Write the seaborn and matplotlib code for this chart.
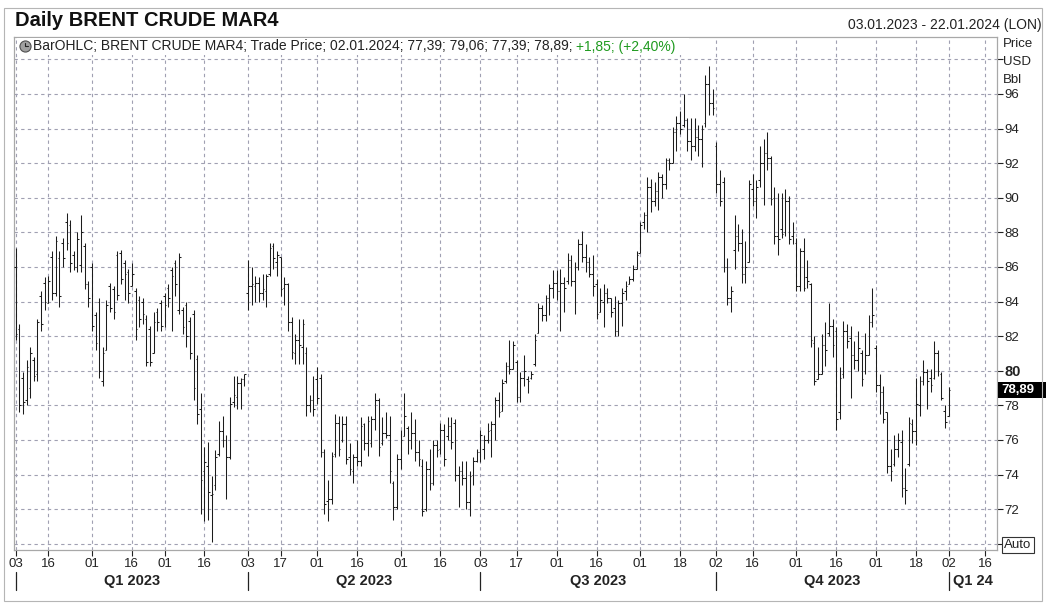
#! /usr/bin/env python3
import numpy as np
import pandas as pd
import seaborn as sns
import matplotlib.pyplot as plt
import matplotlib.transforms as mtransforms
from matplotlib import patches as mpatches

# Chart texts
TITLE = "Daily BRENT CRUDE MAR4"
RANGE_TEXT = "03.01.2023 - 22.01.2024 (LON)"
LEGEND_TEXT = "BarOHLC; BRENT CRUDE MAR4; Trade Price; 02.01.2024; 77,39; 79,06; 77,39; 78,89; "
LEGEND_CHANGE = "+1,85; (+2,40%)"
LAST_PRICE = 78.89
LAST_LABEL = "78,89"

# Trading calendar (exchange closed on these days)
START_DATE = "2023-01-03"
END_DATE = "2024-01-31"
HOLIDAYS = ["2023-04-07", "2023-12-25", "2024-01-01"]

# Daily bars
opens = [
    86.0, 82.4, 79.6, 78.3, 79.0, 80.6, 79.8, 84.3, 85.1, 83.9,
    86.6, 84.5, 86.5, 87.4, 88.6, 88.4, 86.7, 86.0, 86.1, 87.2,
    85.0, 86.0, 83.2, 84.0, 79.4, 81.2, 84.9, 84.7, 86.7, 86.8,
    86.2, 85.7, 84.9, 84.6, 84.1, 84.0, 83.0, 82.4, 81.0, 83.4,
    83.9, 84.3, 84.8, 85.8, 86.2, 83.5, 83.5, 83.8, 82.9, 83.3,
    80.7, 77.8, 74.2, 74.5, 72.8, 73.4, 75.2, 76.5, 76.0, 75.0,
    78.2, 78.5, 79.3, 79.5, 84.5, 84.9, 84.9, 85.1, 84.5, 84.6,
    85.6, 87.2, 86.3, 86.6, 84.8, 85.0, 82.8, 81.0, 81.8, 81.4,
    81.0, 78.0, 78.3, 79.5, 79.6, 75.3, 72.5, 72.6, 75.2, 77.0,
    76.0, 76.9, 75.0, 74.2, 75.0, 74.8, 76.9, 75.8, 75.8, 77.2,
    78.3, 75.8, 76.4, 76.3, 73.5, 72.1, 74.9, 76.2, 76.7, 76.0,
    76.4, 75.3, 74.5, 72.0, 74.3, 73.5, 75.7, 75.5, 76.6, 76.2,
    76.8, 77.0, 74.0, 74.2, 73.8, 72.4, 74.0, 74.8, 75.3, 75.5,
    76.0, 76.6, 76.9, 78.3, 77.7, 79.4, 80.3, 80.1, 80.5, 78.5,
    79.6, 79.5, 79.6, 80.4, 82.2, 83.6, 83.2, 84.2, 84.8, 85.1,
    84.6, 85.1, 85.2, 86.4, 85.2, 86.0, 87.3, 86.6, 86.3, 85.6,
    85.0, 83.4, 84.0, 84.5, 84.2, 83.6, 82.3, 83.9, 84.6, 85.0,
    85.3, 85.9, 86.8, 88.6, 89.0, 90.6, 89.8, 90.4, 91.2, 90.8,
    92.2, 92.0, 93.8, 94.3, 94.2, 94.5, 93.3, 93.0, 93.5, 93.4,
    94.3, 96.6, 95.5, 93.0, 90.8, 90.9, 86.0, 84.2, 87.0, 87.8,
    87.4, 85.6, 86.3, 90.5, 89.8, 91.0, 92.0, 92.6, 92.3, 90.0,
    87.8, 88.2, 88.0, 89.8, 87.8, 87.4, 84.9, 86.9, 85.4, 85.0,
    81.6, 79.5, 79.8, 81.5, 82.2, 82.6, 82.3, 77.6, 79.8, 82.3,
    81.9, 80.9, 80.6, 81.0, 80.0, 80.9, 82.8, 81.3, 79.2, 78.8,
    77.6, 74.5, 74.6, 75.5, 75.9, 73.2, 74.6, 76.9, 76.5, 78.0,
    79.4, 79.9, 79.6, 79.6, 81.0, 79.8, 77.7, 77.39,
]
highs = [
    87.1, 82.7, 79.9, 80.6, 81.4, 80.8, 83.0, 84.6, 85.4, 85.5,
    86.9, 87.8, 86.9, 87.7, 89.1, 88.7, 86.9, 88.0, 89.0, 87.4,
    85.2, 86.2, 83.4, 84.2, 81.4, 84.1, 85.1, 84.9, 86.9, 87.0,
    86.4, 85.9, 86.2, 84.8, 84.3, 84.2, 83.2, 82.6, 83.4, 83.6,
    84.1, 84.5, 85.0, 86.0, 86.4, 86.8, 83.7, 84.0, 83.1, 83.5,
    80.9, 78.7, 75.6, 75.9, 73.9, 75.4, 77.1, 77.4, 76.3, 78.5,
    79.7, 79.7, 79.6, 79.8, 86.4, 86.0, 85.5, 85.4, 85.6, 85.6,
    87.4, 87.4, 86.9, 86.6, 85.4, 85.1, 83.1, 82.1, 83.0, 83.0,
    81.4, 78.6, 79.7, 80.2, 79.8, 75.5, 73.7, 75.3, 77.5, 77.4,
    77.4, 77.4, 75.8, 75.2, 76.0, 77.3, 77.0, 77.4, 77.4, 78.7,
    78.4, 77.3, 77.6, 77.4, 73.6, 75.2, 76.6, 78.7, 76.8, 77.6,
    77.2, 76.0, 74.9, 74.8, 75.5, 76.0, 76.0, 77.0, 76.9, 77.3,
    77.3, 77.2, 74.5, 74.8, 74.8, 74.2, 75.0, 75.5, 76.6, 76.3,
    77.0, 77.1, 78.5, 78.8, 79.5, 80.5, 81.8, 81.7, 80.6, 79.9,
    80.9, 79.7, 80.0, 82.1, 83.9, 83.8, 84.4, 85.0, 85.8, 85.8,
    85.9, 85.4, 86.8, 86.7, 86.3, 87.6, 88.1, 87.3, 86.6, 86.7,
    85.3, 84.8, 85.0, 84.8, 84.2, 84.3, 84.1, 84.8, 85.2, 85.5,
    86.1, 86.9, 88.6, 89.2, 91.2, 91.1, 90.9, 91.5, 91.4, 92.3,
    92.3, 94.1, 94.7, 95.0, 96.0, 94.6, 94.6, 94.6, 94.2, 94.2,
    97.1, 97.6, 96.3, 93.2, 91.6, 91.2, 86.5, 84.9, 89.0, 88.5,
    88.2, 87.5, 91.0, 91.4, 91.0, 93.0, 93.4, 93.8, 92.4, 90.6,
    90.3, 90.3, 90.5, 90.1, 88.6, 87.7, 87.1, 87.7, 86.4, 85.1,
    82.0, 81.4, 82.1, 82.8, 83.9, 83.0, 82.5, 80.2, 82.9, 82.7,
    82.6, 81.7, 82.3, 81.2, 82.2, 83.2, 84.8, 81.5, 79.8, 79.1,
    77.6, 75.5, 76.3, 76.4, 76.6, 74.4, 77.3, 77.2, 79.6, 79.7,
    80.6, 80.1, 80.1, 81.7, 81.2, 79.9, 78.0, 79.06,
]
lows = [
    81.8, 77.6, 77.5, 78.0, 78.4, 79.4, 79.4, 82.3, 83.5, 83.9,
    84.1, 84.3, 83.7, 86.0, 87.0, 85.7, 85.8, 85.7, 85.7, 84.7,
    83.7, 82.3, 81.2, 79.6, 79.1, 81.2, 83.4, 83.0, 84.1, 85.0,
    84.1, 83.9, 84.9, 81.8, 82.5, 82.7, 80.3, 80.3, 81.0, 82.3,
    82.3, 82.5, 83.7, 82.3, 84.3, 83.3, 82.1, 81.4, 80.7, 78.3,
    76.9, 71.7, 71.3, 71.4, 70.1, 73.1, 75.1, 75.6, 72.6, 74.9,
    77.9, 77.8, 77.8, 79.1, 83.5, 83.8, 84.0, 84.0, 84.1, 83.7,
    85.5, 85.9, 85.5, 84.3, 83.8, 82.3, 80.7, 80.4, 80.4, 80.4,
    77.4, 77.6, 77.4, 78.1, 75.0, 71.7, 71.3, 72.3, 75.0, 75.1,
    75.9, 74.6, 74.0, 73.5, 74.5, 74.5, 75.4, 75.1, 75.6, 76.6,
    75.1, 75.7, 76.1, 73.5, 71.4, 72.0, 74.3, 76.2, 75.2, 75.5,
    74.8, 74.5, 71.6, 71.9, 73.1, 73.4, 75.0, 75.2, 74.5, 76.0,
    75.5, 73.6, 72.1, 73.4, 72.0, 71.6, 73.4, 74.7, 74.7, 74.9,
    75.8, 75.0, 76.0, 77.3, 77.7, 79.3, 79.8, 80.1, 78.2, 78.2,
    79.1, 78.7, 79.5, 80.3, 82.2, 82.9, 82.9, 83.2, 84.2, 84.1,
    82.3, 83.4, 85.0, 84.9, 83.3, 85.8, 86.3, 85.7, 85.4, 84.3,
    83.0, 83.4, 82.5, 83.9, 83.1, 82.0, 82.0, 82.6, 84.1, 85.0,
    85.2, 85.9, 86.8, 88.2, 88.0, 89.2, 89.5, 89.3, 90.0, 90.5,
    91.6, 92.0, 92.7, 93.7, 94.1, 92.7, 92.2, 92.7, 92.4, 91.8,
    94.1, 94.8, 94.8, 90.3, 89.5, 85.7, 83.8, 83.4, 85.9, 86.9,
    85.1, 85.1, 86.3, 89.5, 88.8, 90.6, 89.6, 91.6, 89.6, 87.3,
    86.7, 87.7, 87.8, 87.3, 87.3, 84.6, 84.6, 84.6, 84.8, 81.4,
    79.2, 79.5, 79.8, 80.3, 82.0, 80.8, 76.6, 77.2, 79.6, 81.3,
    78.4, 80.1, 80.0, 79.1, 79.8, 80.9, 82.5, 78.8, 77.5, 77.0,
    74.1, 73.6, 74.5, 75.0, 72.7, 72.3, 74.5, 75.8, 75.7, 77.4,
    79.2, 77.8, 78.8, 79.5, 79.7, 78.3, 76.7, 77.39,
]
closes = [
    82.1, 78.0, 78.2, 80.2, 81.0, 79.7, 82.8, 82.7, 84.0, 85.2,
    84.5, 87.5, 84.3, 86.5, 87.4, 86.2, 86.0, 87.6, 88.0, 85.0,
    84.2, 82.6, 81.6, 80.0, 81.0, 83.8, 83.6, 83.4, 84.4, 85.3,
    85.6, 84.5, 85.6, 82.4, 83.0, 83.3, 80.5, 80.5, 82.8, 82.8,
    82.6, 83.8, 84.2, 85.5, 85.0, 86.6, 82.5, 82.0, 81.0, 79.0,
    77.5, 73.7, 74.7, 73.0, 72.9, 75.0, 76.5, 76.0, 75.0, 78.1,
    78.6, 79.3, 79.5, 79.8, 84.9, 85.0, 85.1, 84.5, 84.7, 85.5,
    87.1, 86.5, 86.7, 84.7, 85.0, 82.8, 81.1, 81.8, 81.5, 82.7,
    78.0, 78.3, 77.8, 78.4, 75.3, 72.3, 72.6, 75.1, 77.0, 75.5,
    76.9, 74.9, 74.3, 75.0, 74.8, 76.8, 75.8, 77.1, 77.2, 78.3,
    75.6, 76.4, 76.3, 74.2, 72.1, 74.9, 76.0, 77.4, 76.0, 76.4,
    75.3, 74.9, 71.9, 74.3, 73.5, 75.7, 75.4, 76.6, 74.9, 76.8,
    75.9, 74.0, 74.2, 73.8, 72.4, 73.9, 74.8, 75.3, 76.3, 76.0,
    76.5, 76.9, 78.3, 77.6, 79.3, 80.3, 80.1, 81.5, 78.5, 79.6,
    80.0, 79.4, 79.8, 81.8, 83.6, 83.2, 84.2, 84.8, 85.1, 84.6,
    85.1, 84.8, 86.4, 85.2, 86.0, 87.3, 86.6, 86.3, 85.6, 84.9,
    83.3, 84.1, 84.5, 84.2, 83.4, 82.3, 83.9, 84.5, 84.9, 85.3,
    85.9, 86.7, 88.4, 89.0, 90.6, 89.8, 90.4, 91.2, 90.8, 92.2,
    92.0, 93.8, 94.3, 94.0, 94.5, 93.3, 93.0, 93.5, 93.4, 94.0,
    96.6, 95.5, 95.2, 90.8, 89.8, 86.0, 84.2, 84.6, 87.8, 87.4,
    85.6, 86.0, 90.8, 89.8, 90.6, 92.0, 92.6, 92.3, 89.9, 87.8,
    87.6, 87.9, 89.8, 87.6, 88.0, 84.9, 86.9, 84.8, 85.2, 81.8,
    79.4, 79.8, 81.5, 81.2, 82.6, 81.5, 77.2, 79.6, 82.3, 81.7,
    80.9, 80.6, 81.3, 79.5, 80.9, 82.8, 83.2, 79.2, 78.8, 77.2,
    74.5, 74.2, 75.5, 76.0, 73.2, 73.1, 77.0, 76.5, 78.1, 79.4,
    79.9, 79.4, 79.2, 81.0, 80.0, 78.4, 77.04, 78.89,
]

# Axis labels
TICK_DATES = ["2023-01-03", "2023-01-16", "2023-02-01", "2023-02-16", "2023-03-01",
              "2023-03-16", "2023-04-03", "2023-04-17", "2023-05-01", "2023-05-16",
              "2023-06-01", "2023-06-16", "2023-07-03", "2023-07-17", "2023-08-01",
              "2023-08-16", "2023-09-01", "2023-09-18", "2023-10-02", "2023-10-16",
              "2023-11-01", "2023-11-16", "2023-12-01", "2023-12-18", "2024-01-02",
              "2024-01-16"]
TICK_LABELS = ["03", "16", "01", "16", "01", "16", "03", "17", "01", "16", "01", "16", "03",
               "17", "01", "16", "01", "18", "02", "16", "01", "16", "01", "18", "02", "16"]
QUARTER_STARTS = ["2023-01-03", "2023-04-03", "2023-07-03", "2023-10-02", "2024-01-02"]
QUARTER_LABELS = ["Q1 2023", "Q2 2023", "Q3 2023", "Q4 2023", "Q1 24"]
Y_TICKS = list(range(70, 100, 2))
Y_LABELED = list(range(72, 98, 2))

W, H = 1046, 605


def main():
    sns.set_theme(style="white")
    plt.rcParams["font.family"] = ["Liberation Sans", "DejaVu Sans"]

    days = pd.bdate_range(START_DATE, END_DATE)
    days = days[~days.isin(pd.to_datetime(HOLIDAYS))]
    pos_of = {d: i for i, d in enumerate(days)}

    n = len(closes)
    df = pd.DataFrame({"date": days[:n], "open": opens, "high": highs,
                       "low": lows, "close": closes})
    df["pos"] = np.arange(n)

    fig = plt.figure(figsize=(W / 100, H / 100), dpi=100)
    fig.patch.set_facecolor("white")
    ax = fig.add_axes([14 / W, 55 / H, 983 / W, 513 / H])

    # OHLC bars
    bar_col = "#1c1c1c"
    ax.vlines(df["pos"], df["low"], df["high"], color=bar_col, lw=0.75, zorder=3)
    ax.hlines(df["open"], df["pos"] - 0.45, df["pos"], color=bar_col, lw=0.75, zorder=3)
    ax.hlines(df["close"], df["pos"], df["pos"] + 0.45, color=bar_col, lw=0.75, zorder=3)

    ax.set_xlim(-0.47, 270.3)
    ax.set_ylim(69.64, 99.29)

    # x axis
    xt = [pos_of[pd.Timestamp(d)] for d in TICK_DATES]
    ax.set_xticks(xt)
    ax.set_xticklabels(TICK_LABELS)
    ax.tick_params(axis="x", direction="out", length=4, width=0.8, pad=1.5,
                   labelsize=9.5, colors="#222222", bottom=True)

    # y axis on the right
    ax.yaxis.tick_right()
    ax.set_yticks(Y_TICKS)
    ax.set_yticklabels([str(v) if v in Y_LABELED else "" for v in Y_TICKS])
    ax.tick_params(axis="y", direction="out", length=4, width=0.8, pad=1.5,
                   labelsize=9.5, colors="#222222", right=True)
    for lab in ax.get_yticklabels():
        if lab.get_text() == "80":
            lab.set_fontweight("bold")
            lab.set_fontsize(10.5)

    ax.grid(True, linestyle=(0, (3, 3)), color="#a0a0b2", lw=0.8, zorder=0)
    for s in ax.spines.values():
        s.set_color("#a8a8a8")
        s.set_linewidth(0.9)

    # legend line at the top of the plot
    ax.add_patch(mpatches.Rectangle((3 / 983, 1 - 18 / 513), 672 / 983, 17 / 513,
                                    transform=ax.transAxes, facecolor="white",
                                    edgecolor="none", zorder=4))
    ax.plot([11 / 983], [1 - 9 / 513], transform=ax.transAxes, marker="o", ms=8,
            mfc="#a0a0a0", mec="#505050", mew=0.8, zorder=5, clip_on=False)
    ax.plot([11 / 983, 11 / 983, 14 / 983], [1 - 6 / 513, 1 - 9 / 513, 1 - 9 / 513],
            transform=ax.transAxes, color="#222222", lw=0.8, zorder=6)
    t1 = ax.text(19 / 983, 1 - 9.5 / 513, LEGEND_TEXT, transform=ax.transAxes,
                 fontsize=10, color="#222222", va="center", ha="left", zorder=6)
    ax.annotate(LEGEND_CHANGE, xy=(1, 0.5), xycoords=t1, va="center", ha="left",
                fontsize=10, color="#1e9a1e", zorder=6)

    # last price marker on the right axis
    blend = mtransforms.blended_transform_factory(ax.transAxes, ax.transData)
    ax.add_patch(mpatches.Rectangle((1.001, LAST_PRICE - 0.46), 0.06, 0.92,
                                    transform=blend, facecolor="black",
                                    edgecolor="none", clip_on=False, zorder=6))
    ax.text(1.004, LAST_PRICE, LAST_LABEL, transform=blend, color="white",
            fontsize=9.5, fontweight="bold", va="center", ha="left", zorder=7)

    # quarter band under the axis
    qpos = [pos_of[pd.Timestamp(d)] for d in QUARTER_STARTS]
    xblend = mtransforms.blended_transform_factory(ax.transData, ax.transAxes)
    for p in qpos:
        ax.plot([p, p], [-22 / 513, -40 / 513], transform=xblend, color="#222222",
                lw=0.9, clip_on=False)
    for i, lab in enumerate(QUARTER_LABELS):
        if i < len(qpos) - 1:
            ax.text((qpos[i] + qpos[i + 1]) / 2, -31 / 513, lab, transform=xblend,
                    ha="center", va="center", fontsize=10.5, fontweight="bold",
                    color="#222222")
        else:
            ax.text(qpos[i] + 1.2, -31 / 513, lab, transform=xblend, ha="left",
                    va="center", fontsize=10.5, fontweight="bold", color="#222222")

    # header and side texts
    fig.text(15 / W, 1 - 20 / H, TITLE, fontsize=14.5, fontweight="bold",
             va="center", ha="left", color="#111111")
    fig.text(1042 / W, 1 - 25 / H, RANGE_TEXT, fontsize=10, va="center", ha="right",
             color="#222222")
    for txt, yy in [("Price", 44), ("USD", 62), ("Bbl", 80)]:
        fig.text(1003 / W, 1 - yy / H, txt, fontsize=9.5, va="center", ha="left",
                 color="#222222")
    fig.text(1018 / W, 1 - 545 / H, "Auto", fontsize=9.5, va="center", ha="center",
             color="#222222",
             bbox=dict(boxstyle="square,pad=0.15", facecolor="white",
                       edgecolor="#333333", lw=0.8))

    # outer frame
    fig.patches.append(mpatches.Rectangle((4 / W, 4 / H), 1038 / W, 593 / H,
                                          transform=fig.transFigure, fill=False,
                                          edgecolor="#b5b5b5", lw=0.8))

    fig.savefig("out.png", dpi=100)


if __name__ == "__main__":
    main()
